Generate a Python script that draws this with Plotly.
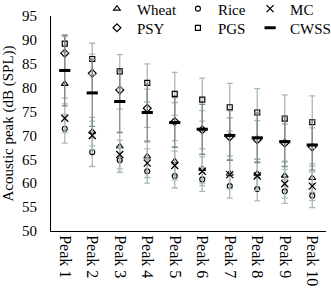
import plotly.graph_objects as go

categories = ["Peak 1", "Peak 2", "Peak 3", "Peak 4", "Peak 5",
              "Peak 6", "Peak 7", "Peak 8", "Peak 9", "Peak 10"]

wheat = [80.8, 70.8, 67.7, 65.6, 64.6, 63.0, 62.0, 62.0, 61.6, 61.1]
rice = [71.4, 66.5, 64.8, 62.5, 61.5, 60.8, 59.4, 58.8, 58.3, 57.4]
mc = [73.6, 70.0, 66.0, 64.2, 63.7, 62.5, 61.8, 61.5, 59.9, 59.4]
psy = [87.2, 83.0, 79.5, 75.7, 72.9, 71.2, 69.7, 69.1, 68.4, 67.6]
pgs = [89.2, 86.0, 83.4, 81.0, 78.7, 77.5, 75.9, 74.8, 73.5, 72.8]
cwss = [83.6, 78.9, 77.1, 74.8, 72.7, 71.3, 70.0, 69.5, 68.7, 68.0]

wheat_err = [3.0, 3.0, 3.0, 3.0, 3.0, 3.0, 3.0, 3.0, 3.0, 3.0]
rice_err = [3.0, 3.0, 2.5, 2.5, 2.5, 2.5, 2.5, 2.5, 2.5, 2.5]
mc_err = [3.0, 3.0, 3.0, 3.0, 3.0, 3.0, 3.0, 3.0, 3.0, 3.0]
psy_err = [3.5, 4.0, 4.0, 4.0, 4.0, 4.0, 4.0, 4.0, 4.0, 4.0]
pgs_err = [1.8, 3.3, 3.5, 4.0, 4.5, 4.5, 5.0, 5.0, 5.0, 5.5]
cwss_err = [7.4, 7.0, 6.5, 6.0, 5.2, 5.2, 5.2, 5.2, 5.2, 5.2]

FONT = "Liberation Serif"
ERR_COLOR = "#a9b9b9"

series = [
    ("Wheat", wheat, wheat_err, "triangle-up-open", 6, 1.1, ERR_COLOR, "legend"),
    ("Rice", rice, rice_err, "circle-open", 5, 1.1, ERR_COLOR, "legend"),
    ("MC", mc, mc_err, "x-thin-open", 7, 1.3, ERR_COLOR, "legend3"),
    ("PSY", psy, psy_err, "diamond-open", 6, 1.2, ERR_COLOR, "legend2"),
    ("PGS", pgs, pgs_err, "square-open", 5, 1.2, ERR_COLOR, "legend2"),
    ("CWSS", cwss, cwss_err, "line-ew-open", 8, 3, "#7d8888", "legend4"),
]

fig = go.Figure()
for name, vals, errs, sym, size, lw, ecol, leg in series:
    fig.add_trace(go.Scatter(
        x=categories, y=vals, name=name, mode="markers", legend=leg,
        marker=dict(symbol=sym, size=size, color="black",
                    line=dict(color="black", width=lw)),
        error_y=dict(type="data", array=errs, visible=True,
                     color=ecol, thickness=1.3, width=3),
    ))

leg_font = dict(family=FONT, size=15, color="black")
leg_pair = dict(orientation="h", x=0.167, xanchor="left", yanchor="middle",
                itemwidth=30, entrywidth=36, entrywidthmode="pixels",
                font=leg_font, bgcolor="rgba(0,0,0,0)", tracegroupgap=0)
leg_single = dict(orientation="h", x=0.724, xanchor="left", yanchor="middle",
                  itemwidth=30, font=leg_font, bgcolor="rgba(0,0,0,0)",
                  tracegroupgap=0)

fig.update_layout(
    width=331, height=295,
    margin=dict(l=51, r=5, t=16, b=64, autoexpand=False),
    plot_bgcolor="white", paper_bgcolor="white",
    font=dict(family=FONT, size=16, color="black"),
    showlegend=True,
    legend=dict(y=1.033, **leg_pair),
    legend2=dict(y=0.944, **leg_pair),
    legend3=dict(y=1.033, **leg_single),
    legend4=dict(y=0.944, **leg_single),
)
fig.update_xaxes(
    type="category", tickangle=90, showline=True, linecolor="black", linewidth=1,
    showgrid=False, ticks="", automargin=False,
    tickfont=dict(family=FONT, size=16, color="black"),
    range=[-0.5, 9.5],
)
fig.update_yaxes(
    range=[50, 95], dtick=5, showline=True, linecolor="black", linewidth=1,
    showgrid=False, ticks="", zeroline=False, automargin=False,
    ticklabelstandoff=10,
    tickfont=dict(family=FONT, size=15, color="black"),
    title=dict(text="Acoustic peak (dB (SPL))", standoff=4,
               font=dict(family=FONT, size=15, color="black")),
)

fig.write_html("out.html", config={"displayModeBar": False},
               post_script="document.body.style.margin='0';")
